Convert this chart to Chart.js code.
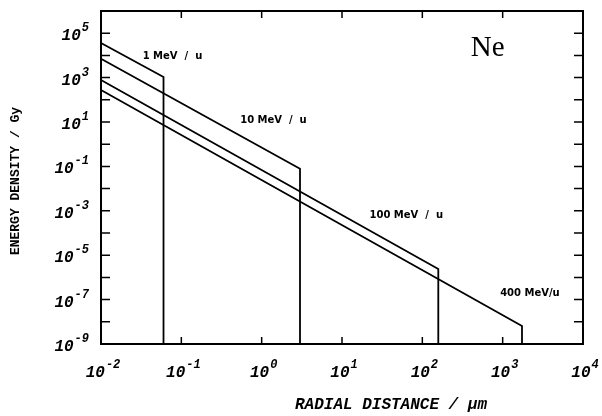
<!DOCTYPE html>
<html>
<head>
<meta charset="utf-8">
<script src="https://cdn.jsdelivr.net/npm/chart.js@4"></script>
<style>
  html, body { margin: 0; padding: 0; background: #fff; }
  #wrap { width: 602px; height: 416px; }
</style>
</head>
<body>
<div id="wrap"><canvas id="chart" width="602" height="416"></canvas></div>
<script>
// beam energies and their dose profiles (Gy vs radial distance in um)
const energies = ['1 MeV / u', '10 MeV / u', '100 MeV / u', '400 MeV/u'];
const rMin = 0.01;
const startDose = [3.6e4, 7.0e3, 7.8e2, 2.75e2];
const rMax = [0.06, 3, 158, 1740];
const endDose = [1.07e3, 7.8e-2, 2.4e-6, 6.5e-9];
const doseFloor = 1e-9;

// label anchor points (data coords)
const labelX = [0.033, 0.54, 22, 930];
const labelY = [9.3e3, 12, 6.5e-4, 2e-7];

// axis decades
const xExponents = [-2, -1, 0, 1, 2, 3, 4];
const yLabelExponents = [-9, -7, -5, -3, -1, 1, 3, 5];
const yTickExponents = [-8, -7, -6, -5, -4, -3, -2, -1, 0, 1, 2, 3, 4, 5];

const datasets = energies.map((name, i) => ({
    label: name,
    data: [
        { x: rMin, y: startDose[i] },
        { x: rMax[i], y: endDose[i] },
        { x: rMax[i], y: doseFloor }
    ],
    borderColor: '#000',
    borderWidth: 1.8,
    pointRadius: 0,
    tension: 0,
    fill: false
}));

const tickFont = 'italic bold 16px "Liberation Mono"';
const expFont = 'italic bold 12px "Liberation Mono"';

function drawPower(ctx, exp, x, y, align) {
    // "10" with a raised exponent; align 'right' or 'center'
    const base = '10';
    const sup = String(exp);
    ctx.font = tickFont;
    const wb = ctx.measureText(base).width;
    ctx.font = expFont;
    const we = ctx.measureText(sup).width;
    const total = wb + 1 + we;
    const left = align === 'right' ? x - total : x - total / 2;
    ctx.textAlign = 'left';
    ctx.textBaseline = 'middle';
    ctx.font = tickFont;
    ctx.fillText(base, left, y + 3);
    ctx.font = expFont;
    ctx.fillText(sup, left + wb + 1, y - 5);
}

const framePlugin = {
    id: 'frame',
    afterDatasetsDraw(chart) {
        const ctx = chart.ctx;
        const a = chart.chartArea;
        const xs = chart.scales.x;
        const ys = chart.scales.y;
        ctx.save();
        ctx.strokeStyle = '#000';
        ctx.fillStyle = '#000';
        ctx.lineWidth = 2;
        ctx.strokeRect(a.left, a.top, a.right - a.left, a.bottom - a.top);

        // inward tick marks
        ctx.lineWidth = 1.5;
        ctx.beginPath();
        xExponents.forEach(e => {
            const px = xs.getPixelForValue(Math.pow(10, e));
            if (px <= a.left + 1 || px >= a.right - 1) return;
            ctx.moveTo(px, a.bottom); ctx.lineTo(px, a.bottom - 7);
            ctx.moveTo(px, a.top); ctx.lineTo(px, a.top + 7);
        });
        yTickExponents.forEach(e => {
            const py = ys.getPixelForValue(Math.pow(10, e));
            ctx.moveTo(a.left, py); ctx.lineTo(a.left + 9, py);
            ctx.moveTo(a.right, py); ctx.lineTo(a.right - 9, py);
        });
        ctx.stroke();

        // tick labels
        xExponents.forEach(e => {
            const px = xs.getPixelForValue(Math.pow(10, e));
            drawPower(ctx, e, px + 2, a.bottom + 26, 'center');
        });
        yLabelExponents.forEach(e => {
            const py = ys.getPixelForValue(Math.pow(10, e));
            drawPower(ctx, e, a.left - 12, py, 'right');
        });

        // axis titles
        ctx.font = 'italic bold 16px "Liberation Mono"';
        ctx.textAlign = 'center';
        ctx.textBaseline = 'middle';
        ctx.fillText('RADIAL DISTANCE / \u03bcm', 391, 405);

        ctx.save();
        ctx.translate(16, 181);
        ctx.rotate(-Math.PI / 2);
        ctx.font = 'bold 13px "Liberation Mono"';
        ctx.fillText('ENERGY DENSITY / Gy', 0, 0);
        ctx.restore();

        // series labels
        ctx.font = 'bold 10px "DejaVu Sans"';
        ctx.textAlign = 'left';
        ctx.textBaseline = 'middle';
        energies.forEach((name, i) => {
            const px = xs.getPixelForValue(labelX[i]);
            const py = ys.getPixelForValue(labelY[i]);
            ctx.fillText(name.replace(/ \/ /, '  /  '), px, py);
        });

        // ion label
        ctx.font = '29px "Liberation Serif"';
        ctx.fillText('Ne', xs.getPixelForValue(400), ys.getPixelForValue(2.1e4));
        ctx.restore();
    }
};

new Chart(document.getElementById('chart').getContext('2d'), {
    type: 'line',
    data: { datasets: datasets },
    options: {
        responsive: false,
        animation: false,
        layout: { padding: { left: 101, top: 11, right: 19, bottom: 72 } },
        plugins: { legend: { display: false }, tooltip: { enabled: false } },
        scales: {
            x: { type: 'logarithmic', min: 0.01, max: 1e4, display: false },
            y: { type: 'logarithmic', min: 1e-9, max: 1e6, display: false }
        }
    },
    plugins: [framePlugin]
});
</script>
</body>
</html>
